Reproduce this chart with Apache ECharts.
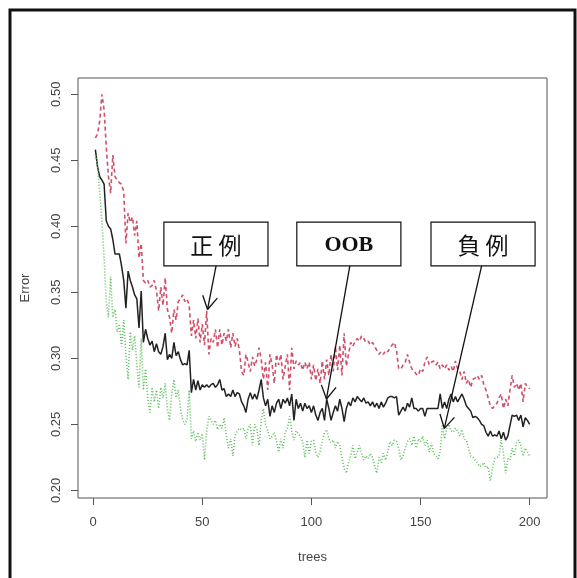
<!DOCTYPE html>
<html>
<head>
<meta charset="utf-8">
<script src="https://cdn.jsdelivr.net/npm/echarts@6/dist/echarts.min.js"></script>
<style>
  html, body { margin: 0; padding: 0; background: #fff; }
  #main { width: 577px; height: 578px; }
</style>
</head>
<body>
<div id="main"></div>
<script>
// error rates per number of trees (1..200)
var oob = [
  0.458, 0.445, 0.4375, 0.435, 0.432, 0.404, 0.400, 0.398, 0.390, 0.379,
  0.379, 0.379, 0.370, 0.359, 0.338, 0.366, 0.359, 0.354, 0.348, 0.345,
  0.323, 0.351, 0.312, 0.322, 0.315, 0.310, 0.313, 0.305, 0.311, 0.305,
  0.303, 0.309, 0.319, 0.299, 0.303, 0.300, 0.312, 0.302, 0.305, 0.299,
  0.295, 0.296, 0.295, 0.306, 0.274, 0.284, 0.276, 0.283, 0.276, 0.280,
  0.278, 0.280, 0.278, 0.280, 0.281, 0.278, 0.280, 0.284, 0.276, 0.277,
  0.271, 0.273, 0.271, 0.276, 0.271, 0.274, 0.273, 0.267, 0.264, 0.259,
  0.269, 0.274, 0.269, 0.273, 0.269, 0.276, 0.284, 0.270, 0.264, 0.269,
  0.256, 0.264, 0.259, 0.266, 0.269, 0.262, 0.269, 0.266, 0.270, 0.264,
  0.273, 0.253, 0.269, 0.262, 0.266, 0.260, 0.266, 0.262, 0.264, 0.259,
  0.264, 0.257, 0.253, 0.259, 0.262, 0.253, 0.269, 0.262, 0.253, 0.259,
  0.264, 0.260, 0.269, 0.262, 0.252, 0.262, 0.267, 0.264, 0.270, 0.267,
  0.271, 0.269, 0.267, 0.270, 0.266, 0.267, 0.264, 0.267, 0.263, 0.266,
  0.262, 0.267, 0.263, 0.266, 0.270, 0.271, 0.271, 0.270, 0.271, 0.257,
  0.260, 0.263, 0.260, 0.266, 0.263, 0.270, 0.262, 0.262, 0.260, 0.262,
  0.262, 0.256, 0.262, 0.262, 0.262, 0.262, 0.262, 0.262, 0.273, 0.262,
  0.267, 0.262, 0.269, 0.273, 0.267, 0.271, 0.267, 0.270, 0.273, 0.269,
  0.264, 0.262, 0.260, 0.255, 0.256, 0.255, 0.253, 0.250, 0.249, 0.244,
  0.241, 0.245, 0.241, 0.242, 0.241, 0.245, 0.239, 0.244, 0.238, 0.241,
  0.249, 0.257, 0.256, 0.257, 0.253, 0.257, 0.248, 0.255, 0.253, 0.250
];
var positive = [
  0.467, 0.470, 0.480, 0.500, 0.488, 0.460, 0.4375, 0.425, 0.454, 0.4375,
  0.435, 0.433, 0.432, 0.426, 0.387, 0.410, 0.403, 0.407, 0.393, 0.404,
  0.376, 0.387, 0.359, 0.357, 0.359, 0.354, 0.355, 0.359, 0.351, 0.336,
  0.354, 0.340, 0.361, 0.337, 0.331, 0.319, 0.337, 0.329, 0.343, 0.345,
  0.348, 0.343, 0.345, 0.340, 0.317, 0.329, 0.315, 0.330, 0.312, 0.326,
  0.310, 0.336, 0.303, 0.315, 0.312, 0.322, 0.308, 0.322, 0.310, 0.319,
  0.313, 0.322, 0.308, 0.319, 0.309, 0.315, 0.306, 0.290, 0.287, 0.303,
  0.297, 0.290, 0.301, 0.294, 0.299, 0.308, 0.299, 0.284, 0.297, 0.276,
  0.303, 0.295, 0.281, 0.303, 0.295, 0.303, 0.284, 0.294, 0.303, 0.276,
  0.308, 0.292, 0.298, 0.295, 0.297, 0.291, 0.297, 0.292, 0.297, 0.284,
  0.295, 0.283, 0.292, 0.281, 0.298, 0.284, 0.299, 0.287, 0.303, 0.290,
  0.309, 0.291, 0.310, 0.287, 0.319, 0.294, 0.303, 0.312, 0.309, 0.313,
  0.315, 0.313, 0.317, 0.315, 0.312, 0.313, 0.310, 0.312, 0.309, 0.306,
  0.303, 0.305, 0.303, 0.306, 0.305, 0.308, 0.310, 0.312, 0.306, 0.292,
  0.292, 0.295, 0.297, 0.303, 0.297, 0.292, 0.291, 0.288, 0.287, 0.292,
  0.290, 0.297, 0.301, 0.295, 0.297, 0.298, 0.295, 0.297, 0.292, 0.295,
  0.292, 0.295, 0.291, 0.294, 0.290, 0.298, 0.292, 0.290, 0.284, 0.290,
  0.281, 0.284, 0.278, 0.284, 0.285, 0.287, 0.284, 0.287, 0.280, 0.276,
  0.270, 0.264, 0.262, 0.264, 0.266, 0.270, 0.273, 0.262, 0.269, 0.264,
  0.276, 0.287, 0.278, 0.281, 0.276, 0.281, 0.267, 0.281, 0.278, 0.277
];
var negative = [
  0.454, 0.446, 0.426, 0.404, 0.376, 0.343, 0.331, 0.362, 0.331, 0.337,
  0.320, 0.326, 0.309, 0.329, 0.303, 0.284, 0.320, 0.306, 0.317, 0.295,
  0.278, 0.315, 0.276, 0.292, 0.270, 0.259, 0.278, 0.267, 0.276, 0.262,
  0.278, 0.270, 0.281, 0.262, 0.253, 0.273, 0.284, 0.270, 0.276, 0.262,
  0.253, 0.250, 0.253, 0.276, 0.239, 0.245, 0.237, 0.244, 0.238, 0.243,
  0.223, 0.245, 0.256, 0.253, 0.250, 0.253, 0.246, 0.250, 0.247, 0.255,
  0.241, 0.232, 0.239, 0.226, 0.241, 0.245, 0.247, 0.246, 0.247, 0.239,
  0.247, 0.250, 0.234, 0.250, 0.246, 0.234, 0.253, 0.262, 0.250, 0.245,
  0.239, 0.241, 0.244, 0.237, 0.229, 0.239, 0.232, 0.244, 0.247, 0.256,
  0.245, 0.238, 0.245, 0.243, 0.241, 0.237, 0.225, 0.238, 0.228, 0.237,
  0.238, 0.229, 0.225, 0.229, 0.238, 0.243, 0.246, 0.239, 0.236, 0.238,
  0.232, 0.237, 0.234, 0.225, 0.217, 0.213, 0.221, 0.226, 0.234, 0.224,
  0.229, 0.234, 0.228, 0.223, 0.226, 0.224, 0.228, 0.225, 0.218, 0.213,
  0.225, 0.221, 0.228, 0.223, 0.229, 0.237, 0.234, 0.238, 0.237, 0.232,
  0.223, 0.226, 0.232, 0.237, 0.239, 0.234, 0.241, 0.232, 0.239, 0.237,
  0.241, 0.234, 0.238, 0.229, 0.236, 0.228, 0.226, 0.224, 0.229, 0.250,
  0.239, 0.247, 0.250, 0.245, 0.244, 0.247, 0.245, 0.241, 0.246, 0.239,
  0.238, 0.232, 0.226, 0.225, 0.223, 0.221, 0.218, 0.219, 0.221, 0.217,
  0.218, 0.207, 0.217, 0.224, 0.225, 0.226, 0.238, 0.228, 0.213, 0.224,
  0.223, 0.232, 0.226, 0.236, 0.238, 0.234, 0.226, 0.232, 0.229, 0.226
];
var xTicks = [0, 50, 100, 150, 200];
var yTicks = [0.20, 0.25, 0.30, 0.35, 0.40, 0.45, 0.50];

// callouts: label, box span in trees, arrow start (tree) and arrow tip [tree, error]
var calloutLabels = ['正 例', 'OOB', '負 例'];
var calloutBoxX = [[32.4, 80.1], [93.3, 141.0], [154.8, 202.5]];
var calloutBoxY = [0.4032, 0.3700];
var calloutFromX = [56.3, 117.6, 178.0];
var calloutTips = [[52.4, 0.337], [106.9, 0.2692], [160.9, 0.2469]];

function toPairs(arr) {
  return arr.map(function (v, i) { return [i + 1, v]; });
}

var chart = echarts.init(document.getElementById('main'));
var labelFont = { color: '#444', fontSize: 13, fontFamily: 'Liberation Sans, Arial, sans-serif' };

var option = {
  animation: false,
  backgroundColor: '#fff',
  grid: {
    left: 78, right: 30, top: 78, bottom: 80,
    show: true, borderColor: '#555', borderWidth: 1, backgroundColor: 'transparent'
  },
  xAxis: {
    type: 'value',
    min: -6.96,
    max: 207.96,
    name: 'trees',
    nameLocation: 'middle',
    nameGap: 53,
    nameTextStyle: labelFont,
    axisLine: { show: false, onZero: false },
    splitLine: { show: false },
    axisTick: { show: true, length: 7, customValues: xTicks, lineStyle: { color: '#555' } },
    axisLabel: Object.assign({ customValues: xTicks, margin: 18 }, labelFont)
  },
  yAxis: {
    type: 'value',
    min: 0.1942,
    max: 0.5123,
    name: 'Error',
    nameLocation: 'middle',
    nameRotate: 90,
    nameGap: 46,
    nameTextStyle: labelFont,
    axisLine: { show: false, onZero: false },
    splitLine: { show: false },
    axisTick: { show: true, length: 7, customValues: yTicks, lineStyle: { color: '#555' } },
    axisLabel: Object.assign({
      customValues: yTicks, rotate: 90, margin: 15,
      formatter: function (v) { return v.toFixed(2); }
    }, labelFont)
  },
  series: [
    {
      name: '正例', type: 'line', data: toPairs(positive), symbol: 'none',
      lineStyle: { color: '#d0506a', width: 1.6, type: [4, 3] }
    },
    {
      name: 'OOB', type: 'line', data: toPairs(oob), symbol: 'none',
      lineStyle: { color: '#222', width: 1.5 }
    },
    {
      name: '負例', type: 'line', data: toPairs(negative), symbol: 'none',
      lineStyle: { color: '#5cbf5c', width: 1.6, type: [1, 2] }
    }
  ]
};
chart.setOption(option);

// frame, callout boxes and arrows, placed from data coordinates
var graphics = [{
  type: 'rect', z: 1,
  shape: { x: 10, y: 10, width: 565, height: 590 },
  style: { fill: null, stroke: '#111', lineWidth: 3 }
}];
calloutLabels.forEach(function (label, i) {
  var p0 = chart.convertToPixel({ gridIndex: 0 }, [calloutBoxX[i][0], calloutBoxY[0]]);
  var p1 = chart.convertToPixel({ gridIndex: 0 }, [calloutBoxX[i][1], calloutBoxY[1]]);
  var from = chart.convertToPixel({ gridIndex: 0 }, [calloutFromX[i], calloutBoxY[1]]);
  var tip = chart.convertToPixel({ gridIndex: 0 }, calloutTips[i]);
  graphics.push({
    type: 'rect', z: 10,
    shape: { x: p0[0], y: p0[1], width: p1[0] - p0[0], height: p1[1] - p0[1] },
    style: { fill: '#fff', stroke: '#111', lineWidth: 1.2 }
  });
  var isOob = label === 'OOB';
  graphics.push({
    type: 'text', z: 11,
    x: (p0[0] + p1[0]) / 2, y: (p0[1] + p1[1]) / 2 + 1,
    style: {
      text: label,
      textAlign: 'center', textVerticalAlign: 'middle',
      fill: '#111',
      fontSize: isOob ? 22 : 23,
      fontWeight: isOob ? 'bold' : 'normal',
      fontFamily: isOob ? 'Liberation Serif, serif' : 'Noto Sans CJK JP, sans-serif'
    }
  });
  graphics.push({
    type: 'line', z: 11,
    shape: { x1: from[0], y1: from[1], x2: tip[0], y2: tip[1] },
    style: { stroke: '#111', lineWidth: 1.3 }
  });
  var ang = Math.atan2(from[1] - tip[1], from[0] - tip[0]);
  [-0.52, 0.52].forEach(function (d) {
    graphics.push({
      type: 'line', z: 11,
      shape: {
        x1: tip[0], y1: tip[1],
        x2: tip[0] + 15 * Math.cos(ang + d), y2: tip[1] + 15 * Math.sin(ang + d)
      },
      style: { stroke: '#111', lineWidth: 1.3 }
    });
  });
});
chart.setOption({ graphic: graphics });

window.onresize = chart.resize;
</script>
</body>
</html>
